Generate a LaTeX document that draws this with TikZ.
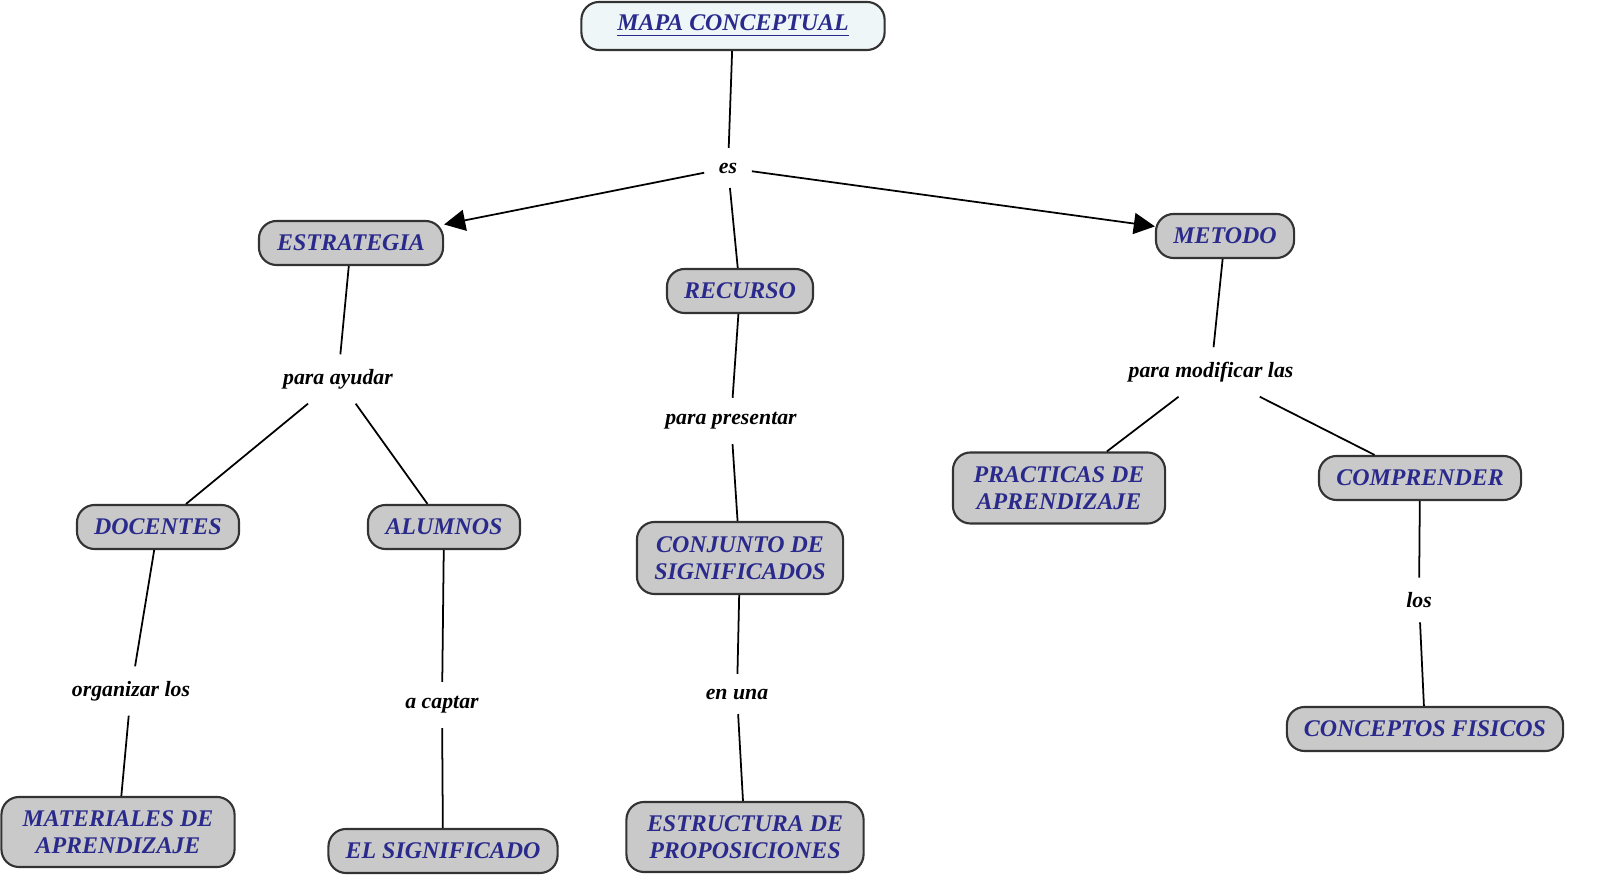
\documentclass[tikz,border=0pt]{standalone}
\usepackage{fontspec}
\setmainfont{Liberation Serif}
\usetikzlibrary{arrows.meta}
\definecolor{ctext}{HTML}{2A2A8C}
\definecolor{cfill}{HTML}{C9C9C9}
\definecolor{tfill}{HTML}{EEF6F8}
\begin{document}
\begin{tikzpicture}[x=0.01cm,y=-0.01cm,
  concept/.style={draw=black!80,line width=0.6pt,rounded corners=5pt,fill=cfill,text=ctext,
    font=\bfseries\itshape\fontsize{6.8}{7.6}\selectfont,align=center,inner sep=0pt},
  lbl/.style={font=\bfseries\itshape\fontsize{6.2}{7}\selectfont,inner sep=4pt},
  con/.style={line width=0.5pt},
  arr/.style={line width=0.5pt,-{Triangle[length=6pt,width=6pt]}}]
\useasboundingbox (0,0) rectangle (1600,895);
\node[concept,fill=tfill,minimum width=3.03cm,minimum height=0.48cm] (mapa) at (733,26) {\underline{MAPA CONCEPTUAL}};
\node[lbl] (es) at (728,168) {es};
\node[concept,minimum width=1.84cm,minimum height=0.44cm] (estr) at (351,243) {ESTRATEGIA};
\node[concept,minimum width=1.46cm,minimum height=0.44cm] (recu) at (740,291) {RECURSO};
\node[concept,minimum width=1.38cm,minimum height=0.44cm] (meto) at (1225,236) {METODO};
\node[lbl] (pa) at (338,379) {para ayudar};
\node[lbl] (pp) at (731,421) {para presentar};
\node[lbl] (pm) at (1211,372) {para modificar las};
\node[concept,minimum width=1.62cm,minimum height=0.44cm] (doc) at (158,527) {DOCENTES};
\node[concept,minimum width=1.52cm,minimum height=0.44cm] (alu) at (444,527) {ALUMNOS};
\node[concept,minimum width=2.06cm,minimum height=0.72cm] (conj) at (740,558) {CONJUNTO DE\\SIGNIFICADOS};
\node[concept,minimum width=2.12cm,minimum height=0.71cm] (prac) at (1059,488) {PRACTICAS DE\\APRENDIZAJE};
\node[concept,minimum width=2.02cm,minimum height=0.44cm] (comp) at (1420,478) {COMPRENDER};
\node[lbl] (org) at (131,691) {organizar los};
\node[lbl] (cap) at (442,705) {a captar};
\node[lbl] (enu) at (737,694) {en una};
\node[lbl] (los) at (1419,600) {los};
\node[concept,minimum width=2.33cm,minimum height=0.70cm] (mat) at (118,832) {MATERIALES DE\\APRENDIZAJE};
\node[concept,minimum width=2.29cm,minimum height=0.44cm] (sig) at (443,851) {EL SIGNIFICADO};
\node[concept,minimum width=2.37cm,minimum height=0.70cm] (est) at (745,837) {ESTRUCTURA DE\\PROPOSICIONES};
\node[concept,minimum width=2.76cm,minimum height=0.44cm] (fis) at (1425,729) {CONCEPTOS FISICOS};
\draw[con] (mapa) -- (es);
\draw[arr] (es) -- (estr);
\draw[arr] (es) -- (meto);
\draw[con] (es) -- (recu);
\draw[con] (estr) -- (pa);
\draw[con] (pa) -- (doc);
\draw[con] (pa) -- (alu);
\draw[con] (recu) -- (pp);
\draw[con] (pp) -- (conj);
\draw[con] (meto) -- (pm);
\draw[con] (pm) -- (prac);
\draw[con] (pm) -- (comp);
\draw[con] (doc) -- (org);
\draw[con] (org) -- (mat);
\draw[con] (alu) -- (cap);
\draw[con] (cap) -- (sig);
\draw[con] (conj) -- (enu);
\draw[con] (enu) -- (est);
\draw[con] (comp) -- (los);
\draw[con] (los) -- (fis);
\end{tikzpicture}
\end{document}
